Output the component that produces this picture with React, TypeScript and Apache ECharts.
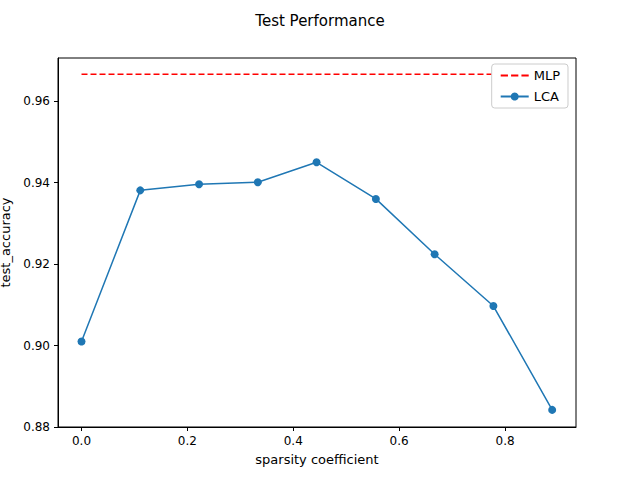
import { useEffect, useRef } from 'react'
import * as echarts from 'echarts'

const sparsity = [0, 0.111, 0.222, 0.333, 0.444, 0.556, 0.667, 0.778, 0.889]
const lcaAccuracy = [0.901, 0.9381, 0.9396, 0.9401, 0.945, 0.936, 0.9224, 0.9097, 0.8842]
const mlpAccuracy = 0.9666
const xTicks = [0, 0.2, 0.4, 0.6, 0.8]
const yTicks = [0.88, 0.9, 0.92, 0.94, 0.96]

const font = 'DejaVu Sans'
const dashIcon = 'path://M0,0h7v2h-7z M10,0h7v2h-7z M20,0h7v2h-7z'

const App = () => {
  const main = useRef<HTMLDivElement>(null)
  useEffect(() => {
    document.body.style.margin = '0'
    const chart = echarts.init(main.current, null, { renderer: 'svg' })
    const axisCommon = {
      type: 'value' as const,
      splitLine: { show: false },
      axisLine: { onZero: false, lineStyle: { color: '#000' } },
      nameLocation: 'middle' as const,
      nameTextStyle: { color: '#000', fontFamily: font, fontSize: 13 },
    }
    chart.setOption({
      animation: false,
      title: {
        text: 'Test Performance',
        left: 'center',
        top: 8,
        textStyle: { fontFamily: font, fontSize: 15, fontWeight: 'normal', color: '#000' },
      },
      grid: {
        left: 58, right: 64, top: 58, bottom: 53,
        containLabel: false, outerBoundsMode: 'none',
        show: true, borderColor: '#000', borderWidth: 1,
      },
      legend: {
        right: 72,
        top: 64,
        orient: 'vertical',
        backgroundColor: '#fff',
        borderColor: '#ccc',
        borderWidth: 1,
        borderRadius: 3,
        padding: [5, 8],
        itemWidth: 28,
        itemHeight: 10,
        itemGap: 8,
        textStyle: { fontFamily: font, fontSize: 13, color: '#000' },
        data: [{ name: 'MLP', icon: dashIcon }, { name: 'LCA' }],
      },
      xAxis: {
        ...axisCommon,
        min: -0.0444,
        max: 0.934,
        name: 'sparsity coefficient',
        nameGap: 26,
        axisTick: { customValues: xTicks, length: 4, lineStyle: { color: '#000' } },
        axisLabel: { customValues: xTicks, color: '#000', fontFamily: font, fontSize: 12, formatter: (v: number) => v.toFixed(1) },
      },
      yAxis: {
        ...axisCommon,
        min: 0.88,
        max: 0.9706,
        name: 'test_accuracy',
        nameGap: 40,
        axisTick: { customValues: yTicks, length: 4, lineStyle: { color: '#000' } },
        axisLabel: { customValues: yTicks, color: '#000', fontFamily: font, fontSize: 12, formatter: (v: number) => v.toFixed(2) },
      },
      series: [
        {
          name: 'MLP',
          type: 'line',
          symbol: 'none',
          color: '#ff0000',
          lineStyle: { type: [6, 3], width: 1.5, color: '#ff0000' },
          data: [[sparsity[0], mlpAccuracy], [sparsity[sparsity.length - 1], mlpAccuracy]],
        },
        {
          name: 'LCA',
          type: 'line',
          symbol: 'circle',
          symbolSize: 8,
          color: '#1f77b4',
          lineStyle: { width: 1.5, color: '#1f77b4' },
          data: sparsity.map((x, i) => [x, lcaAccuracy[i]]),
        },
      ],
    })
    return () => chart.dispose()
  }, [])
  return <div ref={main} style={{ width: 640, height: 480 }} />
}

export default App
